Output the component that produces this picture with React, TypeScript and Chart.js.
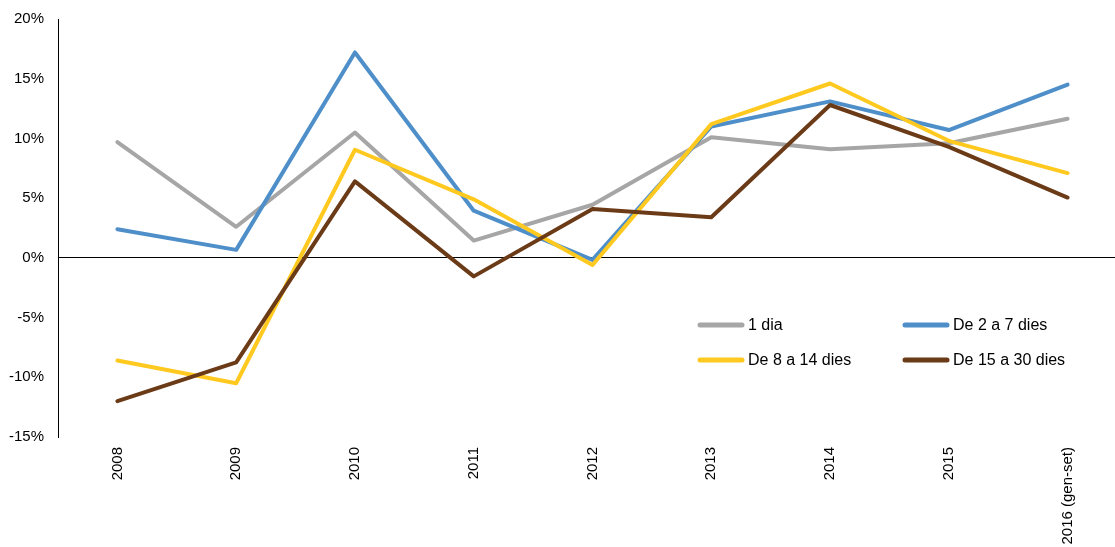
import React, { useEffect, useRef } from "react";
import { Chart, registerables } from "chart.js";

Chart.register(...registerables);

const categories = ["2008", "2009", "2010", "2011", "2012", "2013", "2014", "2015", "2016 (gen-set)"];
const seriesNames = ["1 dia", "De 2 a 7 dies", "De 8 a 14 dies", "De 15 a 30 dies"];
const oneDay = [9.7, 2.6, 10.5, 1.45, 4.45, 10.1, 9.1, 9.6, 11.65];
const twoToSeven = [2.4, 0.67, 17.2, 3.95, -0.17, 11.0, 13.1, 10.7, 14.5];
const eightToFourteen = [-8.6, -10.5, 9.05, 4.9, -0.6, 11.2, 14.6, 9.8, 7.1];
const fifteenToThirty = [-12.0, -8.75, 6.4, -1.55, 4.1, 3.4, 12.8, 9.3, 5.05];
const yTicks = [-15, -10, -5, 0, 5, 10, 15, 20];

const colors = ["#A6A6A6", "#4E8FC9", "#FFC91F", "#6B3A17"];
const FONT = "'Liberation Sans', Arial, sans-serif";

const legendPlugin = {
  id: "customLegend",
  afterDraw(chart: any) {
    const ctx = chart.ctx;
    const items = [
      { x: 698, y: 325 },
      { x: 903, y: 325 },
      { x: 698, y: 360 },
      { x: 903, y: 360 },
    ];
    ctx.save();
    ctx.font = `16px ${FONT}`;
    ctx.textBaseline = "middle";
    ctx.textAlign = "left";
    items.forEach((p, i) => {
      ctx.strokeStyle = colors[i];
      ctx.lineWidth = 5;
      ctx.lineCap = "round";
      ctx.beginPath();
      ctx.moveTo(p.x + 2, p.y);
      ctx.lineTo(p.x + 44, p.y);
      ctx.stroke();
      ctx.fillStyle = "#000";
      ctx.fillText(seriesNames[i], p.x + 50, p.y + 1);
    });
    ctx.restore();
  },
};

export default function App() {
  const ref = useRef<HTMLCanvasElement | null>(null);
  useEffect(() => {
    if (!ref.current) return;
    const data = [oneDay, twoToSeven, eightToFourteen, fifteenToThirty];
    const chart = new Chart(ref.current, {
      type: "line",
      data: {
        labels: categories,
        datasets: data.map((d, i) => ({
          label: seriesNames[i],
          data: d,
          borderColor: colors[i],
          backgroundColor: colors[i],
          borderWidth: 4,
          pointRadius: 0,
          tension: 0,
          borderCapStyle: "round",
          borderJoinStyle: "round",
          order: 4 - i,
        })),
      },
      options: {
        animation: false,
        responsive: false,
        maintainAspectRatio: false,
        layout: { padding: { top: 19, right: 13, left: 0, bottom: 0 } },
        plugins: { legend: { display: false }, tooltip: { enabled: false } },
        scales: {
          x: {
            type: "category",
            offset: true,
            grid: { display: false, drawTicks: false },
            border: { display: false },
            ticks: {
              autoSkip: false,
              minRotation: 90,
              maxRotation: 90,
              padding: 10,
              color: "#000",
              font: { family: FONT, size: 15 },
            },
            afterFit(scale: any) {
              scale.height = 110;
              scale.paddingLeft = 0;
              scale.paddingRight = 0;
            },
          },
          y: {
            min: -15,
            max: 20,
            afterBuildTicks(scale: any) {
              scale.ticks = yTicks.map((v) => ({ value: v }));
            },
            grid: {
              drawTicks: false,
              color: (c: any) => (c.tick && c.tick.value === 0 ? "#000" : "rgba(0,0,0,0)"),
              lineWidth: 1,
            },
            border: { display: true, color: "#000", width: 1 },
            ticks: {
              padding: 14,
              color: "#000",
              font: { family: FONT, size: 15 },
              callback: (v: any) => `${v}%`,
            },
            afterFit(scale: any) {
              scale.width = 58;
              scale.paddingTop = 0;
              scale.paddingBottom = 0;
            },
          },
        },
      },
      plugins: [legendPlugin],
    } as any);
    return () => chart.destroy();
  }, []);
  return (
    <div style={{ position: "fixed", left: 0, top: 0, width: 1115, height: 547, overflow: "hidden", background: "#fff" }}>
      <canvas ref={ref} width={1140} height={547} style={{ display: "block" }} />
    </div>
  );
}
